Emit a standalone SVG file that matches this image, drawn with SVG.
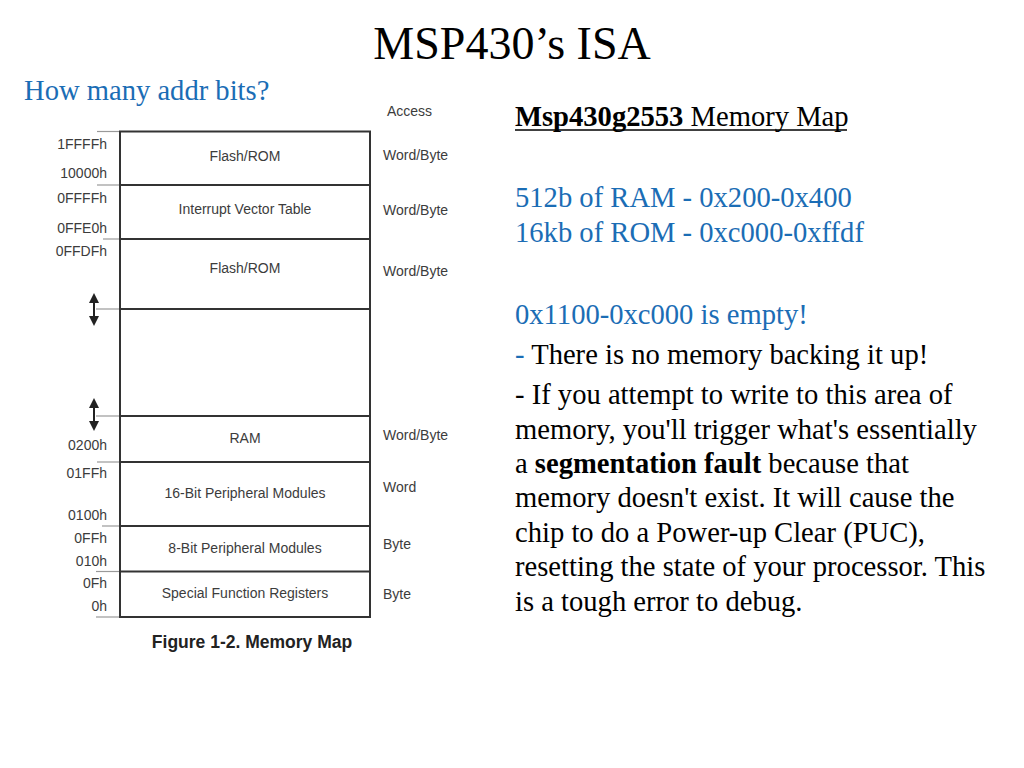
<svg xmlns="http://www.w3.org/2000/svg" width="1024" height="768" viewBox="0 0 1024 768">
<style>
.ttl{font-family:"Liberation Serif",serif;font-size:46px;fill:#000}
.body{font-family:"Liberation Serif",serif;font-size:28.6px;fill:#000}
.blue{fill:#1b6db5}
.mm{font-family:"Liberation Sans",Arial,sans-serif;font-size:14px;fill:#3c3c3c}
.addr{text-anchor:end}
.mid{text-anchor:middle}
.sep{stroke:#333;stroke-width:2}
.tick{stroke:#999;stroke-width:1.2}
.shaft{stroke:#222;stroke-width:2;fill:none}
</style>
<defs>
<marker id="ah" viewBox="0 0 10 10" refX="1" refY="5" markerWidth="10" markerHeight="10" markerUnits="userSpaceOnUse" orient="auto-start-reverse">
<path d="M0,0 L10,5 L0,10 z" fill="#222"/>
</marker>
</defs>
<rect width="1024" height="768" fill="#fff"/>
<text class="ttl" x="512" y="59" text-anchor="middle">MSP430’s ISA</text>
<text class="body blue" x="24" y="100">How many addr bits?</text>

<g id="memory-map">
<g id="ticks">
<line class="tick" x1="97" y1="131.5" x2="120" y2="131.5"/>
<line class="tick" x1="97" y1="185" x2="120" y2="185"/>
<line class="tick" x1="103" y1="239" x2="120" y2="239"/>
<line class="tick" x1="96" y1="309" x2="120" y2="309"/>
<line class="tick" x1="96" y1="416" x2="120" y2="416"/>
<line class="tick" x1="97" y1="462" x2="120" y2="462"/>
<line class="tick" x1="102" y1="526" x2="120" y2="526"/>
<line class="tick" x1="96" y1="571.5" x2="120" y2="571.5"/>
<line class="tick" x1="96" y1="617" x2="120" y2="617"/>
</g>
<rect x="120" y="131.5" width="250" height="485.5" fill="none" stroke="#333" stroke-width="2"/>
<g id="flash-rom-high">
<line class="sep" x1="120" y1="185" x2="370" y2="185" stroke="#777"/>
<text class="mm mid" x="245" y="161">Flash/ROM</text>
<text class="mm" x="383" y="160">Word/Byte</text>
</g>
<g id="interrupt-vector-table">
<line class="sep" x1="120" y1="239" x2="370" y2="239"/>
<text class="mm mid" x="245" y="214">Interrupt Vector Table</text>
<text class="mm" x="383" y="215">Word/Byte</text>
</g>
<g id="flash-rom-low">
<line class="sep" x1="120" y1="309" x2="370" y2="309"/>
<text class="mm mid" x="245" y="273">Flash/ROM</text>
<text class="mm" x="383" y="276">Word/Byte</text>
</g>
<g id="empty-region">
<line class="sep" x1="120" y1="416" x2="370" y2="416"/>
</g>
<g id="ram">
<line class="sep" x1="120" y1="462" x2="370" y2="462"/>
<text class="mm mid" x="245" y="443">RAM</text>
<text class="mm" x="383" y="440">Word/Byte</text>
</g>
<g id="periph16">
<line class="sep" x1="120" y1="526" x2="370" y2="526"/>
<text class="mm mid" x="245" y="498">16-Bit Peripheral Modules</text>
<text class="mm" x="383" y="492">Word</text>
</g>
<g id="periph8">
<line class="sep" x1="120" y1="571.5" x2="370" y2="571.5"/>
<text class="mm mid" x="245" y="553">8-Bit Peripheral Modules</text>
<text class="mm" x="383" y="549">Byte</text>
</g>
<g id="sfr">
<text class="mm mid" x="245" y="598">Special Function Registers</text>
<text class="mm" x="383" y="599">Byte</text>
</g>
<g id="addresses">
<text class="mm addr" x="107" y="149">1FFFFh</text>
<text class="mm addr" x="107" y="178">10000h</text>
<text class="mm addr" x="107" y="203">0FFFFh</text>
<text class="mm addr" x="107" y="233">0FFE0h</text>
<text class="mm addr" x="107" y="256">0FFDFh</text>
<text class="mm addr" x="107" y="450">0200h</text>
<text class="mm addr" x="107" y="478">01FFh</text>
<text class="mm addr" x="107" y="520">0100h</text>
<text class="mm addr" x="107" y="543">0FFh</text>
<text class="mm addr" x="107" y="566">010h</text>
<text class="mm addr" x="107" y="588">0Fh</text>
<text class="mm addr" x="107" y="611">0h</text>
</g>
<text class="mm" x="387" y="116" font-size="13">Access</text>
<text x="252" y="648" text-anchor="middle" font-family="Liberation Sans,Arial,sans-serif" font-weight="bold" font-size="17.5" fill="#222">Figure 1-2. Memory Map</text>
</g>

<g id="connectors">
<line class="shaft" x1="94" y1="302" x2="94" y2="317" marker-start="url(#ah)" marker-end="url(#ah)"/>
<line class="shaft" x1="94" y1="407" x2="94" y2="422" marker-start="url(#ah)" marker-end="url(#ah)"/>
</g>

<g id="notes">
<text class="body" x="515" y="126"><tspan font-weight="bold">Msp430g2553</tspan> Memory Map</text>
<line x1="515" y1="130" x2="847" y2="130" stroke="#000" stroke-width="1.5"/>
<text class="body blue" x="515" y="207">512b of RAM - 0x200-0x400</text>
<text class="body blue" x="515" y="242">16kb of ROM - 0xc000-0xffdf</text>
<text class="body blue" x="515" y="324">0x1100-0xc000 is empty!</text>
<text class="body" x="515" y="364"><tspan class="blue">-</tspan> There is no memory backing it up!</text>
<text class="body" x="515" y="404">- If you attempt to write to this area of</text>
<text class="body" x="515" y="439">memory, you'll trigger what's essentially</text>
<text class="body" x="515" y="473">a <tspan font-weight="bold">segmentation fault</tspan> because that</text>
<text class="body" x="515" y="507">memory doesn't exist. It will cause the</text>
<text class="body" x="515" y="542">chip to do a Power-up Clear (PUC),</text>
<text class="body" x="515" y="576">resetting the state of your processor. This</text>
<text class="body" x="515" y="611">is a tough error to debug.</text>
</g>
</svg>
